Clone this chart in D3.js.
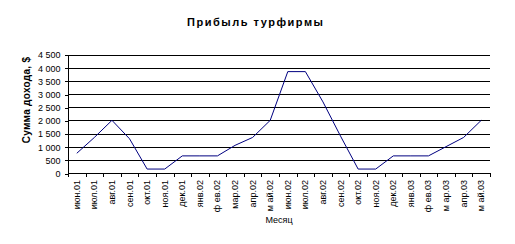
<!DOCTYPE html>
<html>
<head>
<meta charset="utf-8">
<style>
  body { margin: 0; background: #fff; }
  svg { display: block; font-family: "Liberation Sans", Arial, sans-serif; }
  .grid line { stroke: #000; stroke-width: 1px; shape-rendering: crispEdges; }
  .axis path, .axis line { stroke: #000; shape-rendering: crispEdges; }
  .axis text { font-size: 9px; fill: #000; }
</style>
</head>
<body>
<svg width="515" height="244"></svg>
<script src="https://d3js.org/d3.v7.min.js"></script>
<script>
var months = ["июн.01","июл.01","авг.01","сен.01","окт.01","ноя.01","дек.01","янв.02",
  "ф ев.02","мар.02","апр.02","м ай.02","июн.02","июл.02","авг.02","сен.02","окт.02",
  "ноя.02","дек.02","янв.03","ф ев.03","м ар.03","апр.03","м ай.03"]
var profit = [750, 1350, 2000, 1300, 150, 150, 650, 650, 650, 1050, 1350, 2000,
  3850, 3850, 2700, 1400, 150, 150, 650, 650, 650, 1000, 1350, 2000]
var yTicks = [0, 500, 1000, 1500, 2000, 2500, 3000, 3500, 4000, 4500]

const svg = d3.select('svg')
const plotL = 68, plotR = 490, plotT = 54.5, plotB = 173

const x = d3.scaleBand().domain(months).range([plotL, plotR]).padding(0)
const y = d3.scaleLinear().domain([0, 4500]).range([plotB, plotT])

// gridlines
svg.append('g').attr('class', 'grid')
  .selectAll('line').data(yTicks).enter().append('line')
  .attr('x1', plotL).attr('x2', plotR)
  .attr('y1', d => Math.round(y(d)) + 0.5).attr('y2', d => Math.round(y(d)) + 0.5)

// y axis
const yAxis = svg.append('g').attr('class', 'axis')
  .attr('transform', 'translate(' + (plotL + 0.5) + ',0.5)')
  .call(d3.axisLeft(y).tickValues(yTicks).tickSize(4).tickPadding(4)
    .tickFormat(d => d3.format(',')(d).replace(',', ' ')))
yAxis.select('.domain').attr('d', 'M0,' + Math.round(plotT) + 'V' + Math.round(plotB))
yAxis.selectAll('.tick line').attr('x2', -4)

// x axis: ticks on band edges
const xg = svg.append('g').attr('class', 'axis')
xg.append('line').attr('x1', plotL).attr('x2', plotR + 1)
  .attr('y1', plotB + 0.5).attr('y2', plotB + 0.5)
xg.selectAll('.xt').data(months.concat([null])).enter().append('line')
  .attr('class', 'xt')
  .attr('x1', (d, i) => Math.round(plotL + i * x.bandwidth()) + 0.5)
  .attr('x2', (d, i) => Math.round(plotL + i * x.bandwidth()) + 0.5)
  .attr('y1', plotB).attr('y2', plotB + 4)
xg.selectAll('text').data(months).enter().append('text')
  .attr('transform', d => 'translate(' + (x(d) + x.bandwidth() / 2 + 3) + ',' + (plotB + 7) + ') rotate(-90)')
  .attr('text-anchor', 'end')
  .text(d => d)

// line
const line = d3.line()
  .x((d, i) => x(months[i]) + x.bandwidth() / 2)
  .y(d => y(d))
svg.append('path').datum(profit)
  .attr('d', line)
  .attr('fill', 'none')
  .attr('stroke', '#000080')
  .attr('stroke-width', 1)

// titles
svg.append('text').attr('x', 255).attr('y', 26).attr('text-anchor', 'middle')
  .attr('font-size', '11px').attr('font-weight', 'bold')
  .attr('textLength', 136).attr('lengthAdjust', 'spacing')
  .text('Прибыль турфирмы')

svg.append('text').attr('transform', 'translate(30,100) rotate(-90)')
  .attr('text-anchor', 'middle')
  .attr('font-size', '10px').attr('font-weight', 'bold')
  .attr('letter-spacing', '0.3px')
  .text('Сумма дохода, $')

svg.append('text').attr('x', 279).attr('y', 223).attr('text-anchor', 'middle')
  .attr('font-size', '9px')
  .text('Месяц')
</script>
</body>
</html>
